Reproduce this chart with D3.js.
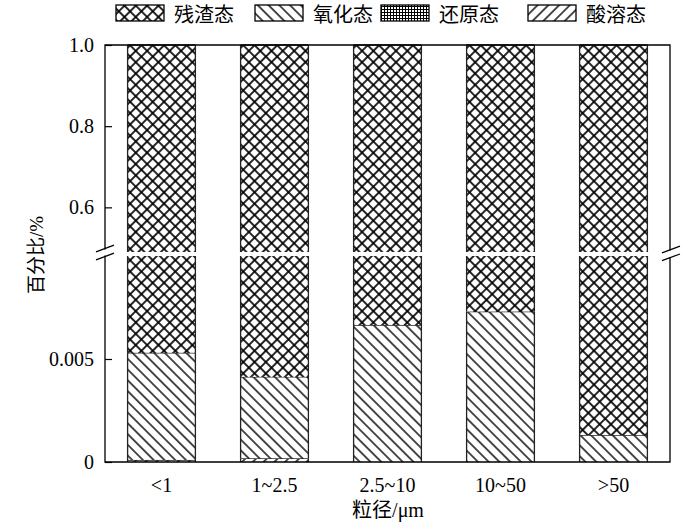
<!DOCTYPE html>
<html><head><meta charset="utf-8">
<script src="https://cdn.jsdelivr.net/npm/d3@7"></script>
<style>body{margin:0;background:#fff}svg{display:block}</style>
</head><body>
<svg id="c" width="700" height="524"></svg>
<script>
// ---- data ----
const categories = ["<1", "1~2.5", "2.5~10", "10~50", ">50"];
const seriesNames = ["残渣态", "氧化态", "还原态", "酸溶态"];
const acidSoluble = [0.0001, 0.00018, 0, 0, 0];      // 酸溶态
const reducible   = [0, 0, 0, 0, 0];                 // 还原态
const oxidizable  = [0.0052, 0.00395, 0.00665, 0.0073, 0.00131]; // 氧化态
const residual    = [0.9947, 0.99587, 0.99335, 0.9927, 0.99869]; // 残渣态
const upperTicks = [0.6, 0.8, 1.0];
const lowerTicks = [0, 0.005];

const keys = ["acid", "red", "oxi", "res"];
const rows = categories.map((c, i) => ({cat: c, acid: acidSoluble[i], red: reducible[i], oxi: oxidizable[i], res: residual[i]}));
const pat = {res: "p-cross", oxi: "p-back", red: "p-grid", acid: "p-fwd"};

const svg = d3.select("#c");
const L = 105, R = 670, T = 45, B = 462;
const x = d3.scaleBand().domain(categories).range([L, R]).paddingInner(0.4).paddingOuter(0.2);
const yUp = d3.scaleLinear().domain([0.49, 1.0]).range([252, T]).clamp(true);
const yLo = d3.scaleLinear().domain([0, 0.01]).range([B, 256]).clamp(true);

// ---- patterns ----
const defs = svg.append("defs");
function linePat(id, size, rot, sw) {
  const p = defs.append("pattern").attr("id", id).attr("patternUnits", "userSpaceOnUse")
    .attr("width", size).attr("height", size).attr("patternTransform", `rotate(${rot})`);
  p.append("rect").attr("width", size).attr("height", size).attr("fill", "#fff");
  p.append("line").attr("x1", 0).attr("x2", size).attr("y1", size / 2).attr("y2", size / 2)
    .attr("stroke", "#000").attr("stroke-width", sw);
  return p;
}
const pc = linePat("p-cross", 8, 45, 1.7);
pc.append("line").attr("y1", 0).attr("y2", 8).attr("x1", 4).attr("x2", 4).attr("stroke", "#000").attr("stroke-width", 1.7);
linePat("p-back", 7.6, 45, 1.4);
linePat("p-fwd", 7.6, -45, 1.4);
const pg = defs.append("pattern").attr("id", "p-grid").attr("patternUnits", "userSpaceOnUse").attr("width", 3).attr("height", 3);
pg.append("rect").attr("width", 3).attr("height", 3).attr("fill", "#fff");
pg.append("path").attr("d", "M0,0.5H3M0.5,0V3").attr("stroke", "#000").attr("stroke-width", 1);

// ---- stacked bars ----
const stacked = d3.stack().keys(keys)(rows);
const panels = [{y: yUp, lo: 0.49, hi: 1.0}, {y: yLo, lo: 0, hi: 0.01}];
const g = svg.append("g");
panels.forEach(pn => {
  stacked.forEach(layer => {
    layer.forEach((d, i) => {
      const a = Math.max(d[0], pn.lo), b = Math.min(d[1], pn.hi);
      if (b <= a) return;
      const x0 = x(categories[i]), w = x.bandwidth();
      const y0 = pn.y(a), y1 = pn.y(b);
      g.append("rect").attr("x", x0).attr("y", y1).attr("width", w).attr("height", y0 - y1)
        .attr("fill", `url(#${pat[layer.key]})`);
      g.append("path").attr("d", `M${x0},${y0}V${y1}M${x0 + w},${y0}V${y1}`)
        .attr("stroke", "#222").attr("stroke-width", 1.3).attr("fill", "none");
      if (d[1] <= pn.hi && d[1] > pn.lo) {
        g.append("line").attr("x1", x0).attr("x2", x0 + w).attr("y1", y1).attr("y2", y1)
          .attr("stroke", "#222").attr("stroke-width", 1.4);
      }
    });
  });
});

// ---- axes ----
const font = "'Liberation Serif', 'Times New Roman', serif";
const cjk = "'Noto Sans CJK SC', sans-serif";
function styleAxis(sel) {
  sel.select(".domain").remove();
  sel.selectAll("text").attr("font-family", font).attr("font-size", 20).attr("fill", "#000");
  sel.selectAll("line").attr("stroke", "#000").attr("stroke-width", 1.2);
}
svg.append("g").attr("transform", `translate(${L},0)`)
  .call(d3.axisLeft(yUp).tickValues(upperTicks).tickSize(-7).tickPadding(11).tickFormat(d3.format(".1f")))
  .call(styleAxis);
svg.append("g").attr("transform", `translate(${L},0)`)
  .call(d3.axisLeft(yLo).tickValues(lowerTicks).tickSize(-7).tickPadding(11)
    .tickFormat(d => d === 0 ? "0" : d3.format(".3f")(d)))
  .call(styleAxis);
svg.append("g").attr("transform", `translate(0,${B})`)
  .call(d3.axisBottom(x).tickSize(0).tickPadding(15.5))
  .call(styleAxis);

// frame lines with breaks
const ax = svg.append("g").attr("stroke", "#000").attr("stroke-width", 1.3).attr("fill", "none");
ax.append("path").attr("d", `M${L},249.5V${T}H${R}V250.5`);
ax.append("path").attr("d", `M${L},255.5V${B}H${R}V257`);
[[L, 248.5], [L, 256.5], [R + 1, 249.5], [R + 1, 257.3]].forEach(([cx, cy]) => {
  ax.append("line").attr("x1", cx - 9).attr("y1", cy + 3.3).attr("x2", cx + 9).attr("y2", cy - 3.3);
});

// titles
svg.append("text").attr("x", 388).attr("y", 517).attr("text-anchor", "middle")
  .attr("font-size", 20).attr("fill", "#000")
  .call(t => { t.append("tspan").attr("font-family", cjk).text("粒径");
               t.append("tspan").attr("font-family", font).text("/μm"); });
svg.append("text").attr("transform", "translate(43,255) rotate(-90)").attr("text-anchor", "middle")
  .attr("font-size", 19).attr("fill", "#000")
  .call(t => { t.append("tspan").attr("font-family", cjk).text("百分比");
               t.append("tspan").attr("font-family", font).text("/%"); });

// legend
const legX = [116, 255, 381, 528];
const legPat = ["p-cross", "p-back", "p-grid", "p-fwd"];
seriesNames.forEach((n, i) => {
  svg.append("rect").attr("x", legX[i]).attr("y", 5).attr("width", 48).attr("height", 16)
    .attr("fill", `url(#${legPat[i]})`).attr("stroke", "#000").attr("stroke-width", 1.3);
  svg.append("text").attr("x", legX[i] + 58).attr("y", 22).attr("font-family", cjk)
    .attr("font-size", 20).attr("fill", "#000").text(n);
});
</script>
</body></html>
